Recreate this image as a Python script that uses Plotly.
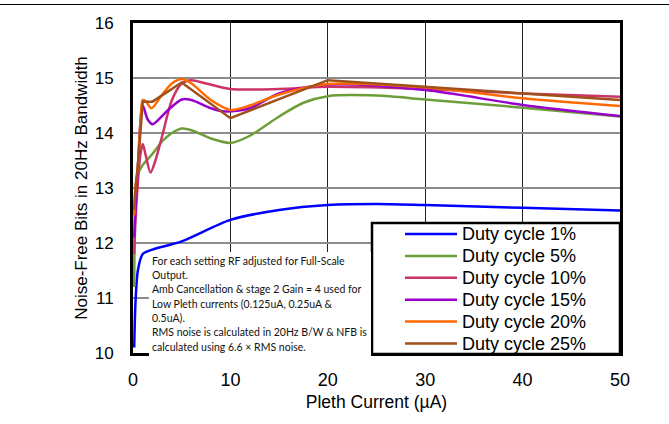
import plotly.graph_objects as go

# ---- data ----
x_1 = [0.125, 0.25, 0.5, 1, 2, 5, 10, 15, 20, 25, 30, 40, 50]
y_1 = [10.1, 10.9, 11.5, 11.8, 11.88, 12.03, 12.42, 12.6, 12.69, 12.71, 12.69, 12.64, 12.59]

x_5 = [0.125, 0.25, 0.5, 1, 2, 3, 4, 5, 6, 8, 10, 12, 15, 17.5, 20, 25, 30, 40, 50]
y_5 = [11.2, 12.8, 13.25, 13.42, 13.62, 13.85, 14.0, 14.08, 14.05, 13.9, 13.82, 13.95, 14.3, 14.55, 14.67, 14.68, 14.61, 14.46, 14.30]

x_10 = [0.125, 0.25, 0.5, 0.75, 1, 1.3, 1.8, 2.3, 3, 4, 5, 6, 7.5, 10, 15, 20, 30, 40, 50]
y_10 = [11.8, 12.4, 13.1, 13.6, 13.8, 13.6, 13.28, 13.5, 13.95, 14.6, 14.9, 14.96, 14.9, 14.8, 14.8, 14.84, 14.8, 14.72, 14.66]

x_15 = [0.125, 0.25, 0.5, 1, 1.5, 2, 3.5, 5, 6, 8, 9.5, 12, 15, 20, 30, 40, 50]
y_15 = [12.1, 12.6, 13.4, 14.5, 14.25, 14.16, 14.4, 14.61, 14.6, 14.45, 14.39, 14.45, 14.72, 14.88, 14.78, 14.51, 14.31]

x_20 = [0.125, 0.25, 0.5, 0.8, 1, 1.3, 1.9, 3, 4, 5, 6, 8, 10, 12, 15, 20, 30, 40, 50]
y_20 = [12.5, 13.0, 13.4, 14.3, 14.6, 14.58, 14.45, 14.7, 14.9, 14.98, 14.9, 14.6, 14.42, 14.5, 14.7, 14.89, 14.83, 14.63, 14.49]

x_25 = [0.125, 0.25, 0.5, 1, 2, 5, 10, 20, 50]
y_25 = [12.6, 13.0, 13.4, 14.57, 14.57, 14.92, 14.27, 14.96, 14.6]

series = [
    ("Duty cycle 1%", x_1, y_1, "#0000FF", "spline"),
    ("Duty cycle 5%", x_5, y_5, "#6E9E3A", "spline"),
    ("Duty cycle 10%", x_10, y_10, "#CC3366", "spline"),
    ("Duty cycle 15%", x_15, y_15, "#9900CC", "spline"),
    ("Duty cycle 20%", x_20, y_20, "#FF6A00", "spline"),
    ("Duty cycle 25%", x_25, y_25, "#A0501A", "linear"),
]

note_lines = [
    "For each setting RF adjusted for Full-Scale",
    "Output.",
    "Amb Cancellation & stage 2 Gain = 4 used for",
    "Low Pleth currents (0.125uA, 0.25uA &",
    "0.5uA).",
    "RMS noise is calculated in 20Hz B/W & NFB is",
    "calculated using 6.6 \u00d7 RMS noise.",
]

x_ticks = [0, 10, 20, 30, 40, 50]
y_ticks = [10, 11, 12, 13, 14, 15, 16]

# ---- figure ----
W, H = 669, 424
L, R, T, B = 133, 620, 23, 353
pw, ph = R - L, B - T

def px(xp):
    return (xp - L) / pw

def py(yp):
    return (B - yp) / ph

fig = go.Figure()
for name, xs, ys, col, shape in series:
    fig.add_trace(go.Scatter(
        x=xs, y=ys, name=name, mode="lines", showlegend=False,
        line=dict(color=col, width=2.5, shape=shape, smoothing=0.8),
    ))

shapes = [
    # page rule at top
    dict(type="line", xref="paper", yref="paper", x0=px(0), x1=px(W), y0=py(4.5), y1=py(4.5),
         line=dict(color="black", width=1), layer="above"),
    # legend box
    dict(type="rect", xref="paper", yref="paper", x0=px(372), x1=px(620), y0=py(354), y1=py(223),
         fillcolor="white", line=dict(color="black", width=2.5), layer="above"),
]

annotations = []
# legend entries (sample line + label)
for i, (name, xs, ys, col, shape) in enumerate(series):
    yc = 234 + i * 21.9
    shapes.append(dict(type="line", xref="paper", yref="paper",
                       x0=px(405), x1=px(457), y0=py(yc), y1=py(yc),
                       line=dict(color=col, width=2.5), layer="above"))
    annotations.append(dict(
        text=name, xref="paper", yref="paper", x=px(460), y=py(yc),
        xanchor="left", yanchor="middle", showarrow=False, align="left",
        font=dict(size=18, color="black"),
    ))

# note box (drawn over the legend frame and the bottom axis line)
shapes.append(dict(type="rect", xref="paper", yref="paper", x0=px(149), x1=px(371),
                   y0=py(357), y1=py(252), fillcolor="white", line=dict(width=0), layer="above"))

for i, t in enumerate(note_lines):
    annotations.append(dict(
        text=t, xref="paper", yref="paper", x=px(150), y=py(260.7 + i * 14.3),
        xanchor="left", yanchor="middle", showarrow=False, align="left",
        font=dict(family="Lato, Noto Sans, sans-serif", size=10.5, color="#111"),
    ))

fig.update_layout(
    width=W, height=H,
    margin=dict(l=L, r=W - R, t=T, b=H - B, pad=0),
    paper_bgcolor="white", plot_bgcolor="white",
    font=dict(family="Liberation Sans, Arial, sans-serif", color="black"),
    showlegend=False,
    shapes=shapes,
    annotations=annotations,
    xaxis=dict(
        range=[0, 50], tickvals=x_ticks, ticktext=[str(v) for v in x_ticks],
        showgrid=True, gridcolor="#222222", gridwidth=1.2,
        showline=True, linecolor="black", linewidth=3, mirror=True,
        ticks="", tickfont=dict(size=18), ticklabelstandoff=8,
        zeroline=False,
        title=dict(text="Pleth Current (\u00b5A)", font=dict(size=17.5), standoff=8),
    ),
    yaxis=dict(
        range=[10, 16], tickvals=y_ticks, ticktext=[str(v) for v in y_ticks],
        showgrid=True, gridcolor="#8c8c8c", gridwidth=1.5,
        showline=True, linecolor="black", linewidth=3, mirror=True,
        ticks="", tickfont=dict(size=17), ticklabelstandoff=13,
        zeroline=False,
        title=dict(text="Noise-Free Bits in 20Hz Bandwidth", font=dict(size=17), standoff=3),
    ),
)

fig.write_html("out.html", post_script="document.body.style.margin='0';",
               config={"displayModeBar": False})
